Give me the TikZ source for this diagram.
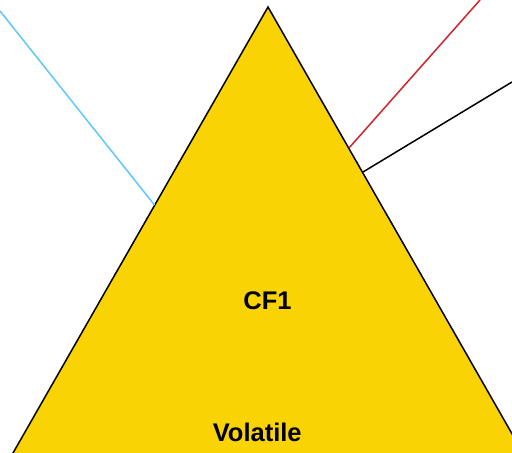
\documentclass[tikz,border=0pt]{standalone}
\usepackage{fontspec}
\setmainfont{Liberation Sans}
\usetikzlibrary{calc}
\definecolor{tri}{RGB}{250,211,5}
\definecolor{cyanline}{RGB}{95,200,250}
\definecolor{redline}{RGB}{210,35,40}
\tikzset{
  px/.style={x=1pt,y=-1pt},
  tribody/.style={fill=tri,draw=black,line width=1.5pt,line join=miter},
  link/.style={line width=1.5pt},
  lbl/.style={inner sep=0pt,anchor=base,font=\fontsize{25.5}{30}\selectfont\bfseries}
}
\begin{document}
\begin{tikzpicture}[px]
\useasboundingbox (0,0) rectangle (512,453);
\begin{scope}
\clip (0,0) rectangle (512,453);
\coordinate (apex) at (268,7);
\coordinate (bl) at (5,467);
\coordinate (br) at (531,467);
\draw[tribody] (apex) -- (bl) -- (br) -- cycle;
\end{scope}
\coordinate (cyanA) at (0,11);
\coordinate (cyanB) at (154.5,205);
\coordinate (redA) at (480,0);
\coordinate (redB) at (349,148);
\coordinate (blkA) at (512,82);
\coordinate (blkB) at (363,172);
\draw[link,cyanline] (cyanA) -- (cyanB);
\draw[link,redline] (redA) -- (redB);
\draw[link,black] (blkA) -- (blkB);
\node[lbl] (cf) at (267.5,309.3) {CF1};
\node[lbl] (vol) at (257.2,441) {Volatile};
\end{tikzpicture}
\end{document}
